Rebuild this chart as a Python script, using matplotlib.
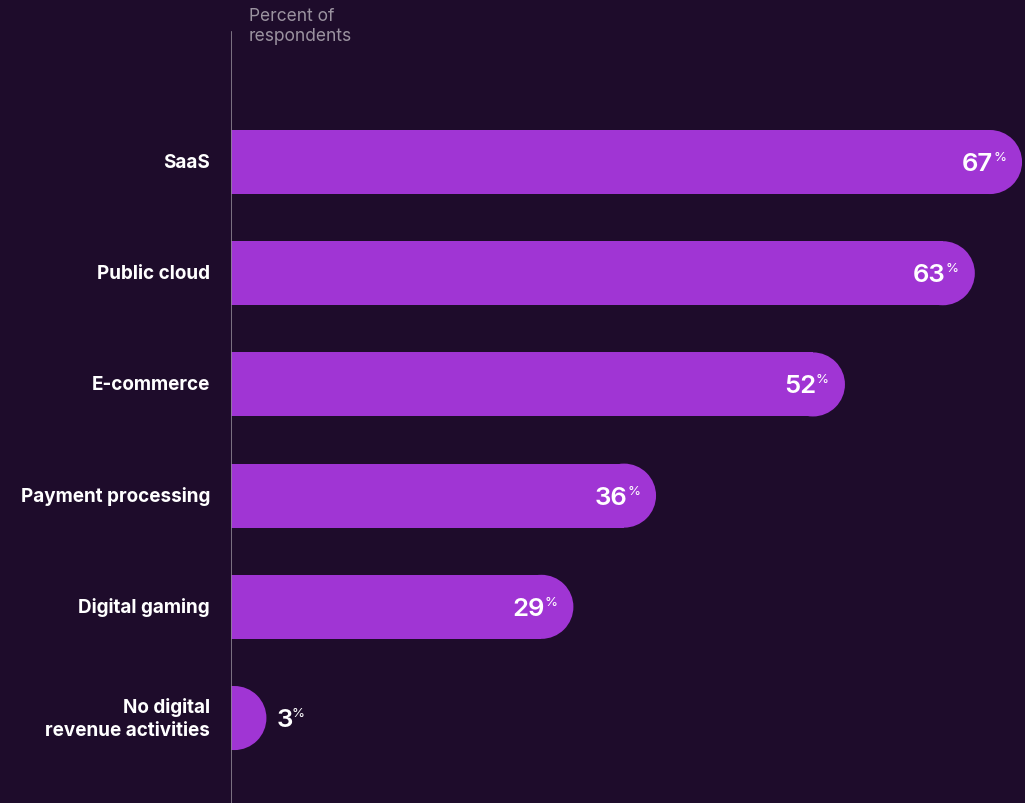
import matplotlib.pyplot as plt
from matplotlib.patches import Rectangle, Ellipse

# survey results
categories = ['SaaS', 'Public cloud', 'E-commerce', 'Payment processing',
              'Digital gaming', 'No digital\nrevenue activities']
values = [67, 63, 52, 36, 29, 3]

bg = '#1e0c2b'
bar_col = '#a035d4'
grey = '#8d8592'

plt.rcParams['font.family'] = ['Inter', 'DejaVu Sans']

fig = plt.figure(figsize=(10.25, 8.04), dpi=100, facecolor=bg)
ax = fig.add_axes([231 / 1025, 0, 794 / 1025, 1])
ax.set_facecolor(bg)
ax.set_xlim(0, 67.25)
ax.set_ylim(5.764, -1.466)
ax.axis('off')

# bar thickness in category units, radius of the round end in x units
h = 0.576
px_x = ax.transData.transform((1, 0))[0] - ax.transData.transform((0, 0))[0]
px_y = abs(ax.transData.transform((0, 1))[1] - ax.transData.transform((0, 0))[1])
rx = (h / 2) * px_y / px_x

for i, (cat, v) in enumerate(zip(categories, values)):
    ax.add_patch(Rectangle((0, i - h / 2), max(v - rx, 0), h, color=bar_col, lw=0))
    ax.add_patch(Ellipse((v - rx, i), 2 * rx, h, color=bar_col, lw=0))

    ax.annotate(cat, xy=(0, i), xytext=(-21, 0), textcoords='offset pixels',
                ha='right', va='center', color='white', fontsize=13.6,
                fontweight='bold', linespacing=1.38, annotation_clip=False)

    if v > 10:
        ax.annotate(str(v), xy=(v, i), xytext=(-29, -8), textcoords='offset pixels',
                    ha='right', va='baseline', color='white', fontsize=18.5,
                    fontweight='semibold')
        ax.annotate('%', xy=(v, i), xytext=(-29, 11), textcoords='offset pixels',
                    ha='left', va='top', color='white', fontsize=9.5)
    else:
        ax.annotate(str(v), xy=(v, i), xytext=(10, -8), textcoords='offset pixels',
                    ha='left', va='baseline', color='white', fontsize=18.5,
                    fontweight='semibold')
        ax.annotate('%', xy=(v, i), xytext=(25, 11), textcoords='offset pixels',
                    ha='left', va='top', color='white', fontsize=9.5)

# vertical baseline
ax.axvline(0, ymin=0, ymax=1 - 33 / 804, color=grey, lw=1.2, zorder=5)

fig.text(249 / 1025, 1 - 8 / 804, 'Percent of\nrespondents', ha='left', va='top',
         color='#9b93a0', fontsize=12.5, linespacing=1.2)

fig.savefig('out.png', dpi=100, facecolor=bg)
